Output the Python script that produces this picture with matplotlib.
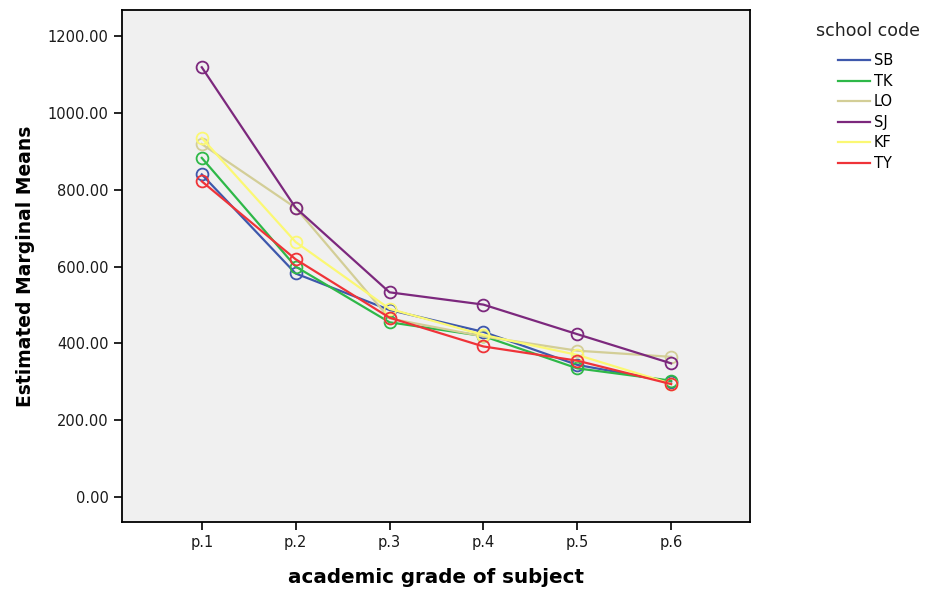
import numpy as np
import matplotlib.pyplot as plt

plt.rcParams['font.family'] = ['DejaVu Sans']

grades = ['p.1', 'p.2', 'p.3', 'p.4', 'p.5', 'p.6']
schools = ['SB', 'TK', 'LO', 'SJ', 'KF', 'TY']

sb = [840, 582, 487, 430, 344, 300]
tk = [883, 600, 455, 419, 335, 303]
lo = [919, 753, 465, 418, 381, 365]
sj = [1119, 753, 533, 501, 424, 348]
kf = [935, 664, 490, 422, 370, 295]
ty = [822, 619, 467, 392, 355, 294]
series = [sb, tk, lo, sj, kf, ty]

colors = ['#3E58AC', '#2EB848', '#D3CE97', '#7C287D', '#FBF873', '#EF3338']

fig = plt.figure(figsize=(9.29, 5.9), dpi=100)
ax = fig.add_axes([0.1313, 0.1153, 0.676, 0.8677])
ax.set_facecolor('#f0f0f0')

x = np.arange(len(grades))
for name, vals, c in zip(schools, series, colors):
    ax.plot(x, vals, color=c, lw=1.6, marker='o', ms=8.5, mfc='none',
            mec=c, mew=1.3, label=name)

ax.set_xlim(-0.85, 5.84)
ax.set_ylim(-65, 1268)
ax.set_yticks(np.arange(0, 1201, 200))
ax.set_yticklabels(['%.2f' % v for v in np.arange(0, 1201, 200)])
ax.set_xticks(x)
ax.set_xticklabels(grades)
ax.tick_params(axis='both', labelsize=10.5, color='black', length=6, width=1.2,
               labelcolor='#1a1a1a')
for s in ax.spines.values():
    s.set_linewidth(1.3)
    s.set_color('black')

ax.set_ylabel('Estimated Marginal Means', fontsize=13.5, fontweight='bold', labelpad=9)
ax.set_xlabel('academic grade of subject', fontsize=14.3, fontweight='bold', labelpad=13)

h = [plt.Line2D([], [], color=c, lw=1.6) for c in colors]
fig.text(0.934, 1 - 31 / 590, 'school code', ha='center', va='center',
         fontsize=12.5, color='#222222')
fig.legend(h, schools, loc='upper left', bbox_to_anchor=(0.902, 0.91),
           frameon=False, fontsize=10.5, handlelength=2.2, handletextpad=0.25,
           labelspacing=0.38, borderpad=0, borderaxespad=0)

fig.savefig('out.png', dpi=100)
